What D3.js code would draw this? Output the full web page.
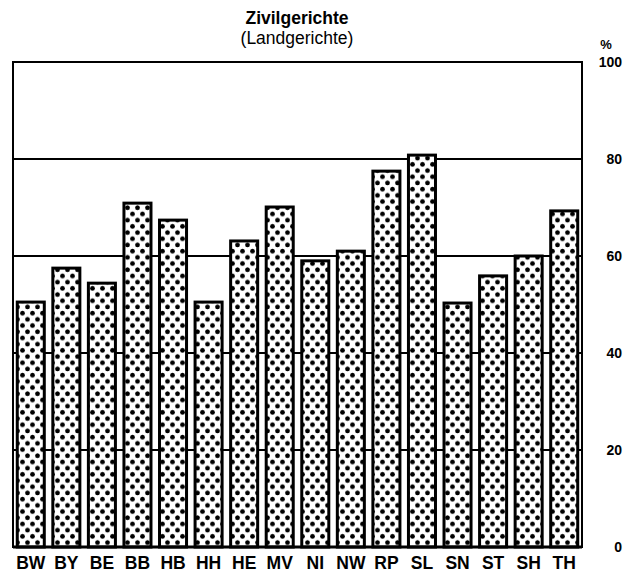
<!DOCTYPE html>
<html>
<head>
    <title>Zivilgerichte</title>
    <meta charset="utf-8">
    <style>
        body { margin: 0; background: #fff; }
    </style>
</head>
<body>
<svg id="svg"></svg>
<script src="https://cdn.jsdelivr.net/npm/d3@7/dist/d3.min.js"></script>
<script>
    const states = ['BW', 'BY', 'BE', 'BB', 'HB', 'HH', 'HE', 'MV', 'NI', 'NW', 'RP', 'SL', 'SN', 'ST', 'SH', 'TH']
    const values = [50.5, 57.5, 54.4, 70.9, 67.4, 50.5, 63.1, 70.1, 59.0, 61.0, 77.5, 80.8, 50.3, 55.9, 60.0, 69.3]
    const yTicks = [0, 20, 40, 60, 80, 100]

    const WIDTH = 639
    const HEIGHT = 579
    const plotLeft = 13, plotRight = 582, plotTop = 62, plotBottom = 547

    const svg = d3.select('svg')
        .attr('width', WIDTH)
        .attr('height', HEIGHT)
        .style('font-family', 'Liberation Sans, Arial, sans-serif')

    // dotted fill (offset rows)
    const pw = 10, ph = 12.4
    const pattern = svg.append('defs').append('pattern')
        .attr('id', 'dots')
        .attr('patternUnits', 'userSpaceOnUse')
        .attr('width', pw)
        .attr('height', ph)
    pattern.append('rect').attr('width', pw).attr('height', ph).attr('fill', '#fff')
    pattern.append('circle').attr('cx', pw * 0.25).attr('cy', ph * 0.25).attr('r', 2.4).attr('fill', '#000')
    pattern.append('circle').attr('cx', pw * 0.75).attr('cy', ph * 0.75).attr('r', 2.4).attr('fill', '#000')

    const x = d3.scaleBand()
        .domain(states)
        .range([plotLeft, plotRight])
        .paddingInner(0.24)
        .paddingOuter(0.12)

    const y = d3.scaleLinear()
        .domain([0, 100])
        .range([plotBottom, plotTop])

    // title
    svg.append('text')
        .attr('x', 297).attr('y', 24)
        .attr('text-anchor', 'middle')
        .attr('font-size', 17.5).attr('font-weight', 'bold')
        .text('Zivilgerichte')
    svg.append('text')
        .attr('x', 297).attr('y', 44)
        .attr('text-anchor', 'middle')
        .attr('font-size', 17.5)
        .text('(Landgerichte)')

    // gridlines
    svg.append('g')
        .selectAll('line')
        .data(yTicks.filter(d => d > 0 && d < 100))
        .enter().append('line')
        .attr('x1', plotLeft).attr('x2', plotRight)
        .attr('y1', d => y(d)).attr('y2', d => y(d))
        .attr('stroke', '#000')
        .attr('stroke-width', 2)

    // frame
    svg.append('rect')
        .attr('x', plotLeft).attr('y', plotTop)
        .attr('width', plotRight - plotLeft).attr('height', plotBottom - plotTop)
        .attr('fill', 'none')
        .attr('stroke', '#000')
        .attr('stroke-width', 2)

    // bars
    svg.append('g')
        .selectAll('rect')
        .data(values)
        .enter().append('rect')
        .attr('x', (d, i) => x(states[i]))
        .attr('y', d => y(d))
        .attr('width', x.bandwidth())
        .attr('height', d => plotBottom - y(d))
        .attr('fill', 'url(#dots)')
        .attr('stroke', '#000')
        .attr('stroke-width', 3)

    // bottom axis line
    svg.append('line')
        .attr('x1', plotLeft).attr('x2', plotRight)
        .attr('y1', plotBottom).attr('y2', plotBottom)
        .attr('stroke', '#000')
        .attr('stroke-width', 3)

    // right axis
    const yAxis = svg.append('g')
        .attr('transform', `translate(${plotRight},0)`)
        .call(d3.axisRight(y).tickValues(yTicks).tickSize(0).tickPadding(40))
    yAxis.select('.domain').remove()
    yAxis.selectAll('text')
        .attr('text-anchor', 'end')
        .attr('font-size', 14)
        .attr('font-weight', 'bold')
        .attr('font-family', 'Liberation Sans, Arial, sans-serif')

    svg.append('text')
        .attr('x', 606).attr('y', 49)
        .attr('text-anchor', 'middle')
        .attr('font-size', 13).attr('font-weight', 'bold')
        .text('%')

    // category labels
    const xAxis = svg.append('g')
        .attr('transform', `translate(0,${plotBottom})`)
        .call(d3.axisBottom(x).tickSize(0).tickPadding(10))
    xAxis.select('.domain').remove()
    xAxis.selectAll('text')
        .attr('font-size', 17.5)
        .attr('font-weight', 'bold')
        .attr('font-family', 'Liberation Sans, Arial, sans-serif')
</script>
</body>
</html>
